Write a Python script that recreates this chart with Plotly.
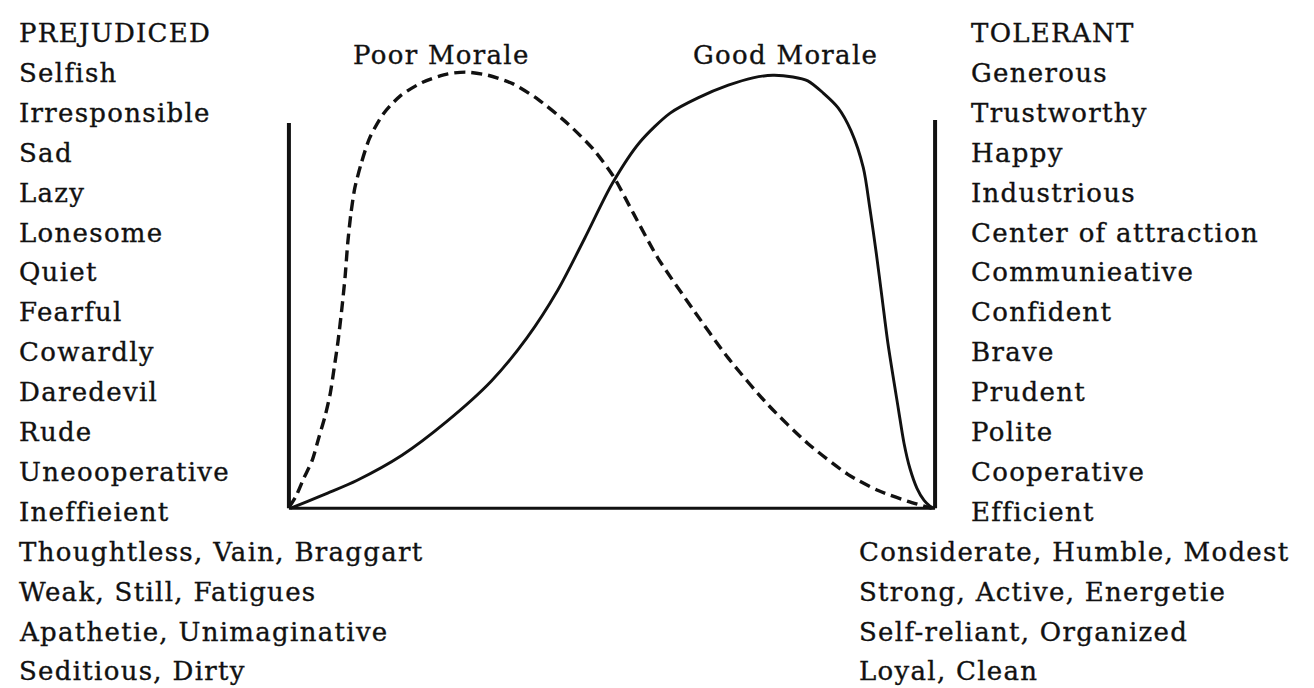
import plotly.graph_objects as go

# ---------------- data ----------------
# position on the trait continuum (0 = prejudiced end, 100 = tolerant end)
poor_x = [0.0, 1.1, 2.3, 3.6, 4.6, 5.6, 6.4, 7.0, 7.6, 8.2, 8.7, 9.1, 9.6, 10.2, 11.2,
          12.5, 14.6, 17.2, 20.7, 24.6, 27.4, 30.8, 34.7, 38.5, 43.2, 47.1, 50.2, 53.3,
          57.1, 62.4, 68.0, 74.2, 80.3, 86.5, 91.2, 95.8, 99.5]
poor_y = [0.2, 2.8, 6.9, 11.0, 16.1, 21.2, 26.4, 32.2, 38.4, 46.0, 53.3, 60.9, 67.8, 73.6,
          79.3, 85.1, 90.6, 94.7, 97.9, 99.8, 100.2, 99.5, 97.5, 94.0, 88.3, 82.5, 76.3,
          67.8, 57.5, 46.0, 34.5, 23.7, 14.9, 7.8, 4.1, 1.6, 0.0]

good_x = [0.2, 2.9, 6.0, 10.5, 17.5, 24.3, 31.3, 36.8, 41.6, 45.8, 50.0, 54.3, 59.0, 63.3,
          68.0, 71.8, 74.9, 78.0, 80.3, 82.7, 85.0, 87.0, 88.9, 89.9, 90.9, 91.8, 92.7,
          94.3, 95.2, 96.1, 97.2, 98.3, 99.2, 99.8]
good_y = [0.0, 1.6, 3.5, 6.4, 12.2, 19.8, 29.2, 39.1, 50.1, 62.1, 74.5, 84.1, 90.8, 94.3,
          97.2, 98.9, 99.5, 99.1, 98.2, 95.4, 92.0, 86.7, 78.2, 69.0, 58.6, 48.3, 37.9,
          23.0, 14.9, 9.2, 4.6, 1.8, 0.5, 0.0]

left_top = ["PREJUDICED", "Selfish", "Irresponsible", "Sad", "Lazy", "Lonesome", "Quiet",
            "Fearful", "Cowardly", "Daredevil", "Rude", "Uneooperative", "Ineffieient"]
left_bottom = ["Thoughtless, Vain, Braggart", "Weak, Still, Fatigues",
               "Apathetie, Unimaginative", "Seditious, Dirty"]
right_top = ["TOLERANT", "Generous", "Trustworthy", "Happy", "Industrious",
             "Center of attraction", "Communieative", "Confident", "Brave", "Prudent",
             "Polite", "Cooperative", "Efficient"]
right_bottom = ["Considerate, Humble, Modest", "Strong, Active, Energetie",
                "Self-reliant, Organized", "Loyal, Clean"]

curve_names = ["Poor Morale", "Good Morale"]

# ---------------- layout geometry ----------------
W, H = 1314, 688
ML, MR, MT, MB = 268, 374, 0, 179
X_RANGE = [-2, 102]
Y_RANGE = [-2.0, 114.94]
PW = W - ML - MR
PH = H - MT - MB

def px2paper_x(px):
    return (px - ML) / PW

def py2paper_y(py):
    return 1 - (py - MT) / PH

FONT = "DejaVu Serif"
FS = 26
INK = "#111111"

def styled(t):
    return ('<span style="letter-spacing:1.3px;stroke:#111111;stroke-width:0.35px">'
            f'{t}</span>')

fig = go.Figure()
fig.add_trace(go.Scatter(x=poor_x, y=poor_y, mode="lines", name=curve_names[0],
                         line=dict(color=INK, width=3.4, dash="11px,6px", shape="spline",
                                   smoothing=0.7)))
fig.add_trace(go.Scatter(x=good_x, y=good_y, mode="lines", name=curve_names[1],
                         line=dict(color=INK, width=2.9, shape="spline", smoothing=0.8)))

# frame lines of the diagram
fig.add_shape(type="line", x0=0, x1=0, y0=0, y1=88.5, xref="x", yref="y",
              line=dict(color=INK, width=4))
fig.add_shape(type="line", x0=100, x1=100, y0=0, y1=89.2, xref="x", yref="y",
              line=dict(color=INK, width=4))
fig.add_shape(type="line", x0=0, x1=100, y0=0, y1=0, xref="x", yref="y",
              line=dict(color=INK, width=3))

ROW0, ROWSTEP = 25, 39.9
annotations = []

def add_label(text, px, py, xanchor="left"):
    annotations.append(dict(text=styled(text), x=px2paper_x(px), y=py2paper_y(py),
                            xref="paper", yref="paper", xanchor=xanchor, yanchor="middle",
                            showarrow=False, borderpad=0,
                            font=dict(family=FONT, size=FS, color=INK)))

for i, t in enumerate(left_top + left_bottom):
    add_label(t, 10, ROW0 + ROWSTEP * i)
for i, t in enumerate(right_top):
    add_label(t, 962, ROW0 + ROWSTEP * i)
for j, t in enumerate(right_bottom):
    add_label(t, 850, ROW0 + ROWSTEP * (len(right_top) + j))

add_label(curve_names[0], 433, 47, xanchor="center")
add_label(curve_names[1], 777, 47, xanchor="center")

fig.update_layout(
    width=W, height=H, autosize=False,
    margin=dict(l=ML, r=MR, t=MT, b=MB, pad=0),
    paper_bgcolor="white", plot_bgcolor="white",
    showlegend=False,
    xaxis=dict(range=X_RANGE, visible=False, fixedrange=True),
    yaxis=dict(range=Y_RANGE, visible=False, fixedrange=True),
    annotations=annotations,
)

fig.write_html("out.html", config={"displayModeBar": False})
